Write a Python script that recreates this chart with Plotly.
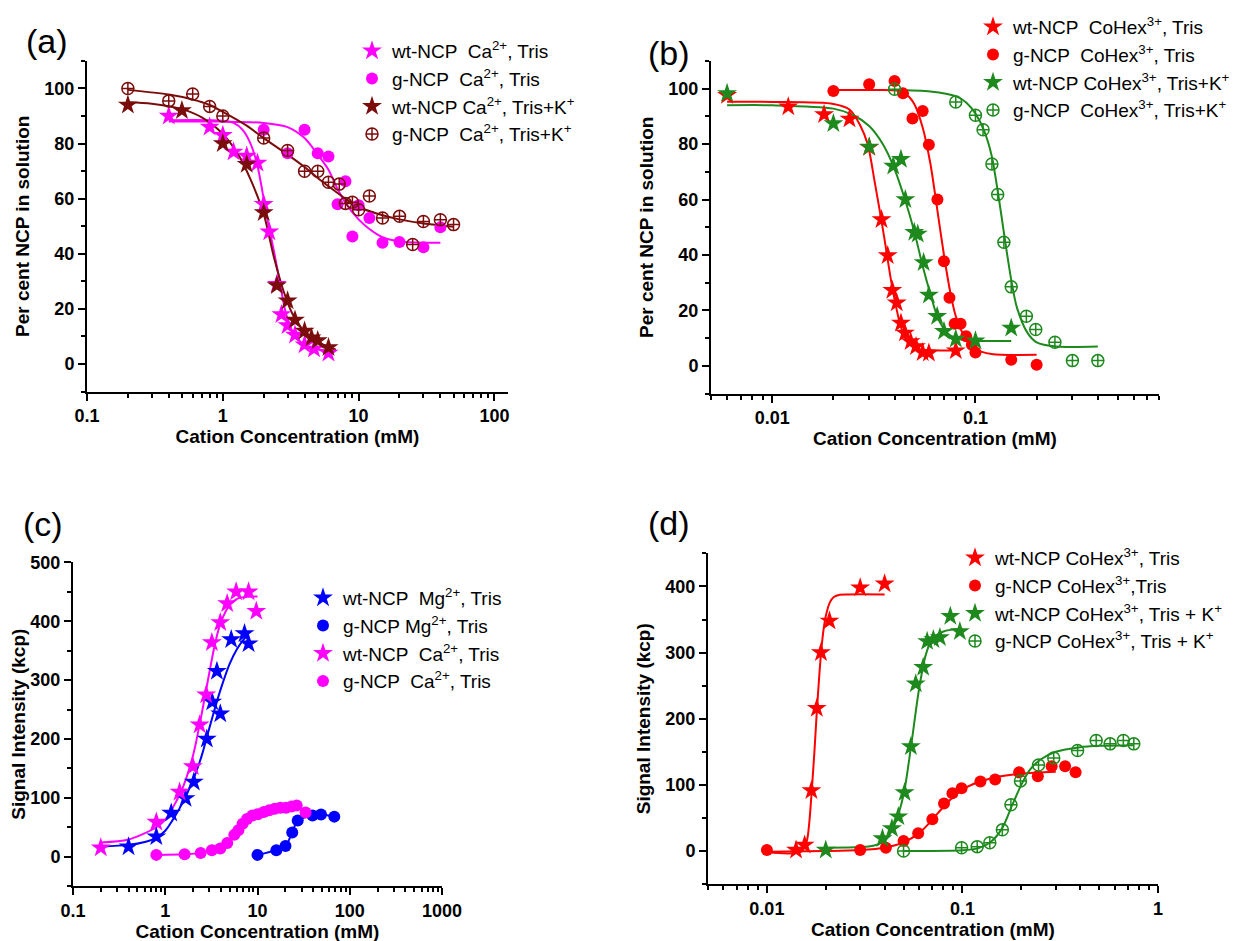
import plotly.graph_objects as go

# ---------------- Panel (a) data ----------------
a_wt_tris_x = [0.4, 0.8, 1.0, 1.2, 1.5, 1.8, 2.0, 2.2, 2.5, 2.7, 3.0, 3.4, 4.0, 4.7, 6.0]
a_wt_tris_y = [90, 86, 83, 77, 75.5, 73, 58, 48, 29, 18, 14, 10.5, 7, 5.5, 4]
a_wt_tris_fit_x = [0.4, 0.8, 1.0, 1.2, 1.4, 1.6, 1.8, 2.0, 2.2, 2.4, 2.6, 3.0, 3.5, 4.0, 5.0, 6.0]
a_wt_tris_fit_y = [88.5, 88.5, 88.3, 87.5, 85, 80, 72, 60, 49, 40, 31, 16, 9.5, 7, 5.3, 5]

a_g_tris_x = [2.0, 3.0, 4.0, 5.0, 6.0, 7.0, 8.0, 9.0, 10.0, 12.0, 15.0, 20.0, 30.0, 40.0]
a_g_tris_y = [85, 76.5, 85, 76.5, 75.3, 58, 66.3, 46.3, 57.6, 53, 44, 44.3, 42.4, 49.6]
a_g_tris_fit_x = [0.4, 1, 2, 3, 4, 5, 6, 7, 8, 10, 12, 15, 20, 30, 40]
a_g_tris_fit_y = [88, 88, 87.5, 86, 82, 76, 70.5, 63.5, 58.5, 52.5, 49, 46, 44.5, 44, 44]

a_wt_k_x = [0.2, 0.5, 1.0, 1.5, 2.0, 2.5, 3.0, 3.4, 4.0, 4.5, 5.0, 6.0]
a_wt_k_y = [94, 92, 80, 72.5, 55, 28.5, 23, 16, 12, 9.5, 8.5, 6]
a_wt_k_fit_x = [0.2, 0.3, 0.5, 0.7, 1.0, 1.3, 1.6, 2.0, 2.4, 2.8, 3.2, 3.8, 4.5, 5.5, 6.8]
a_wt_k_fit_y = [95, 94.5, 92.5, 89.5, 83.5, 76, 67, 54.5, 38, 26.5, 19, 13, 9.5, 7, 5.2]

a_g_k_x = [0.2, 0.4, 0.6, 0.8, 1.0, 2.0, 3.0, 4.0, 5.0, 6.0, 7.2, 8.0, 9.0, 10.0, 12.0, 15.0, 20.0, 25.0, 30.0, 40.0, 50.0]
a_g_k_y = [100, 95.5, 98, 93.5, 90, 82, 77.5, 70, 70, 66, 65.3, 58.3, 58.7, 56, 61, 53, 53.6, 43.4, 51.7, 52.4, 50.6]
a_g_k_fit_x = [0.2, 0.4, 0.6, 0.8, 1.0, 1.5, 2, 3, 4, 5, 6, 8, 10, 15, 20, 30, 50]
a_g_k_fit_y = [99.5, 97.8, 96, 94, 91.5, 86.5, 82, 76, 71.5, 67.5, 64.5, 60, 57, 54, 52.5, 51, 49.8]

# ---------------- Panel (b) data ----------------
b_wt_tris_x = [0.006, 0.012, 0.018, 0.024, 0.030, 0.0345, 0.037, 0.039, 0.041, 0.043, 0.045, 0.048, 0.051, 0.055, 0.059, 0.080]
b_wt_tris_y = [97.6, 93.5, 90.7, 89.1, 78.9, 52.8, 39.8, 27.3, 22.8, 15.5, 11.9, 8.8, 7.0, 4.8, 4.6, 5.5]
b_wt_tris_fit_x = [0.006, 0.01, 0.02, 0.024, 0.027, 0.0295, 0.032, 0.034, 0.036, 0.038, 0.040, 0.043, 0.047, 0.052, 0.06, 0.08]
b_wt_tris_fit_y = [95.3, 95.2, 94.5, 92.5, 87, 80, 66, 55, 44, 33, 24, 14, 8, 6, 5.6, 5.5]

b_g_tris_x = [0.02, 0.03, 0.04, 0.044, 0.049, 0.055, 0.059, 0.065, 0.070, 0.0745, 0.079, 0.0845, 0.09, 0.096, 0.1, 0.15, 0.2]
b_g_tris_y = [99.2, 101.6, 102.8, 98.3, 89.2, 91.9, 79.8, 60, 37.7, 24.6, 15.2, 15.2, 10.7, 7.6, 4.8, 2.2, 0.4]
b_g_tris_fit_x = [0.02, 0.03, 0.04, 0.045, 0.05, 0.055, 0.06, 0.065, 0.07, 0.075, 0.08, 0.09, 0.1, 0.12, 0.2]
b_g_tris_fit_y = [99.5, 99.5, 99.4, 98.3, 94.5, 86, 73, 56, 40, 27, 18, 9.5, 6, 4.3, 4]

b_wt_k_x = [0.006, 0.02, 0.03, 0.0394, 0.043, 0.0452, 0.05, 0.052, 0.0556, 0.059, 0.0648, 0.07, 0.08, 0.1, 0.15]
b_wt_k_y = [98.3, 87.4, 79, 72.1, 74.5, 60, 48.2, 47.6, 37.3, 25.6, 17.9, 12.5, 9.7, 9.1, 13.7]
b_wt_k_fit_x = [0.006, 0.01, 0.02, 0.025, 0.03, 0.035, 0.04, 0.045, 0.05, 0.055, 0.06, 0.066, 0.075, 0.085, 0.1, 0.15]
b_wt_k_fit_y = [94, 94, 92.8, 90.5, 86.5, 80, 71, 60, 48.5, 36, 26, 16.5, 11, 9.5, 9, 9]

b_g_k_x = [0.04, 0.08, 0.1, 0.109, 0.1205, 0.1286, 0.138, 0.15, 0.178, 0.198, 0.246, 0.3, 0.4]
b_g_k_y = [99.8, 95.2, 90.4, 85.2, 72.8, 61.8, 44.6, 28.5, 17.9, 13.1, 8.5, 1.9, 1.9]
b_g_k_fit_x = [0.04, 0.06, 0.08, 0.09, 0.1, 0.11, 0.12, 0.13, 0.14, 0.15, 0.16, 0.18, 0.2, 0.25, 0.4]
b_g_k_fit_y = [99.5, 99, 97.3, 95, 91, 85, 76, 61, 45, 31, 21, 12, 8.5, 7, 7]

# ---------------- Panel (c) data ----------------
c_wt_mg_x = [0.4, 0.8, 1.16, 1.66, 2.04, 2.82, 3.23, 3.63, 3.95, 5.19, 7.23, 8.0]
c_wt_mg_y = [17, 34, 74, 99, 127, 200, 263, 315, 243, 369, 379, 362]
c_wt_mg_fit_x = [0.2, 0.4, 0.6, 0.8, 1.0, 1.2, 1.5, 2.0, 2.5, 3.0, 3.5, 4.0, 5.0, 6.0, 7.0, 7.8]
c_wt_mg_fit_y = [17, 20, 25, 32, 44, 62, 88, 130, 173, 218, 255, 285, 328, 353, 368, 376]

c_g_mg_x = [10, 16, 20.1, 23.8, 27.3, 39.5, 48.8, 68]
c_g_mg_y = [3, 11, 18, 41, 61.5, 70, 71.5, 68]

c_wt_ca_x = [0.2, 0.8, 1.43, 1.99, 2.36, 2.78, 3.2, 3.95, 4.69, 5.87, 8.0, 9.7]
c_wt_ca_y = [15.3, 59, 110, 153, 224, 275, 364, 398, 430, 450, 450, 417]
c_wt_ca_fit_x = [0.2, 0.4, 0.8, 1.0, 1.5, 2.0, 2.5, 3.0, 3.5, 4.0, 5.0, 6.0, 7.0, 10.0]
c_wt_ca_fit_y = [24, 29, 50, 63, 112, 172, 245, 312, 365, 398, 428, 438, 441, 442]

c_g_ca_x = [0.8, 1.62, 2.42, 3.2, 3.95, 4.7, 5.6, 6.2, 6.9, 7.7, 8.8, 10.1, 11.7, 13.4, 15.4, 17.7, 20.4, 23.4, 26.6, 33.2]
c_g_ca_y = [3, 4, 6, 11, 14, 23, 37, 45, 56, 64, 70, 72, 76, 79, 81.5, 83, 83, 85, 87, 75]

# ---------------- Panel (d) data ----------------
d_wt_tris_x = [0.0141, 0.0156, 0.0169, 0.018, 0.0189, 0.0209, 0.03, 0.04]
d_wt_tris_y = [1.5, 9, 91.5, 216, 300, 348, 398, 404]
d_wt_tris_fit_x = [0.01, 0.015, 0.016, 0.0165, 0.017, 0.0175, 0.018, 0.0185, 0.019, 0.0195, 0.02, 0.021, 0.022, 0.0236, 0.026, 0.04]
d_wt_tris_fit_y = [-2, -1, 15, 45, 95, 150, 210, 262, 305, 335, 355, 376, 384, 387.5, 388, 388]

d_g_tris_x = [0.01, 0.03, 0.0406, 0.05, 0.0594, 0.0702, 0.0805, 0.0889, 0.099, 0.1236, 0.147, 0.195, 0.243, 0.286, 0.335, 0.379]
d_g_tris_y = [1.5, 1.5, 5, 15, 27, 48, 72, 87.5, 95, 105, 108, 119, 113, 128, 128, 119]
d_g_tris_fit_x = [0.01, 0.02, 0.03, 0.04, 0.05, 0.06, 0.07, 0.08, 0.09, 0.1, 0.12, 0.15, 0.2, 0.3]
d_g_tris_fit_y = [-1, 0, 1.5, 5, 13, 27, 47, 67, 82, 93, 104, 112, 117, 120]

d_wt_k_x = [0.02, 0.039, 0.0436, 0.047, 0.0506, 0.0545, 0.0577, 0.063, 0.066, 0.071, 0.0767, 0.0867, 0.097]
d_wt_k_y = [1.5, 19, 34, 52, 88.5, 158, 253, 278, 317, 320, 323, 355, 332]
d_wt_k_fit_x = [0.02, 0.03, 0.035, 0.04, 0.045, 0.05, 0.055, 0.06, 0.065, 0.07, 0.08, 0.1]
d_wt_k_fit_y = [5, 6, 8, 15, 40, 85, 165, 245, 297, 320, 332, 336]

d_g_k_x = [0.05, 0.099, 0.119, 0.138, 0.16, 0.177, 0.198, 0.245, 0.293, 0.388, 0.483, 0.569, 0.665, 0.752]
d_g_k_y = [0, 5, 6.6, 12.6, 32, 70, 106, 130, 140.6, 152, 167, 162, 167, 162]
d_g_k_fit_x = [0.05, 0.1, 0.12, 0.14, 0.16, 0.18, 0.2, 0.22, 0.25, 0.3, 0.4, 0.5, 0.75]
d_g_k_fit_y = [0, 1, 4, 14, 35, 70, 100, 122, 138, 150, 157, 159, 160]

# ---------------- styling ----------------
MAGENTA = "#ff00ff"
BROWN = "#7b0c0c"
RED = "#ff0000"
GREEN = "#1e8a1e"
BLUE = "#0000ff"
FONT = "Liberation Sans, Arial, sans-serif"
W, H = 1247, 941
STAR, DOT, PLUS = 15, 12, 12


def dom_x(x0, x1):
    return [x0 / W, x1 / W]


def dom_y(top, bottom):
    return [1 - bottom / H, 1 - top / H]


fig = go.Figure()


def add_points(xa, ya, x, y, name, color, symbol, legend, size):
    mk = dict(color=color, size=size, symbol=symbol)
    if "open" in symbol:
        mk["line"] = dict(color=color, width=1.5)
    fig.add_trace(go.Scatter(x=x, y=y, mode="markers", name=name, marker=mk,
                             xaxis=xa, yaxis=ya, legend=legend, showlegend=True))


def add_line(xa, ya, x, y, color):
    fig.add_trace(go.Scatter(x=x, y=y, mode="lines", line=dict(color=color, width=2, shape="spline", smoothing=0.8),
                             xaxis=xa, yaxis=ya, showlegend=False, hoverinfo="skip"))


# Panel (a)
add_line("x", "y", a_wt_tris_fit_x, a_wt_tris_fit_y, MAGENTA)
add_line("x", "y", a_g_tris_fit_x, a_g_tris_fit_y, MAGENTA)
add_line("x", "y", a_wt_k_fit_x, a_wt_k_fit_y, BROWN)
add_line("x", "y", a_g_k_fit_x, a_g_k_fit_y, BROWN)
add_points("x", "y", a_wt_tris_x, a_wt_tris_y, "wt-NCP  Ca<sup>2+</sup>, Tris", MAGENTA, "star", "legend", STAR)
add_points("x", "y", a_g_tris_x, a_g_tris_y, "g-NCP  Ca<sup>2+</sup>, Tris", MAGENTA, "circle", "legend", DOT)
add_points("x", "y", a_wt_k_x, a_wt_k_y, "wt-NCP Ca<sup>2+</sup>, Tris+K<sup>+</sup>", BROWN, "star", "legend", STAR)
add_points("x", "y", a_g_k_x, a_g_k_y, "g-NCP  Ca<sup>2+</sup>, Tris+K<sup>+</sup>", BROWN, "circle-cross-open", "legend", PLUS)

# Panel (b)
add_line("x2", "y2", b_wt_tris_fit_x, b_wt_tris_fit_y, RED)
add_line("x2", "y2", b_g_tris_fit_x, b_g_tris_fit_y, RED)
add_line("x2", "y2", b_wt_k_fit_x, b_wt_k_fit_y, GREEN)
add_line("x2", "y2", b_g_k_fit_x, b_g_k_fit_y, GREEN)
add_points("x2", "y2", b_wt_tris_x, b_wt_tris_y, "wt-NCP  CoHex<sup>3+</sup>, Tris", RED, "star", "legend2", STAR)
add_points("x2", "y2", b_g_tris_x, b_g_tris_y, "g-NCP  CoHex<sup>3+</sup>, Tris", RED, "circle", "legend2", DOT)
add_points("x2", "y2", b_wt_k_x, b_wt_k_y, "wt-NCP CoHex<sup>3+</sup>, Tris+K<sup>+</sup>", GREEN, "star", "legend2", STAR)
add_points("x2", "y2", b_g_k_x, b_g_k_y, "g-NCP  CoHex<sup>3+</sup>, Tris+K<sup>+</sup>", GREEN, "circle-cross-open", "legend2", PLUS)

# Panel (c)
add_line("x3", "y3", c_wt_mg_fit_x, c_wt_mg_fit_y, BLUE)
add_line("x3", "y3", c_wt_ca_fit_x, c_wt_ca_fit_y, MAGENTA)
add_line("x3", "y3", c_g_mg_x, c_g_mg_y, BLUE)
add_line("x3", "y3", c_g_ca_x, c_g_ca_y, MAGENTA)
add_points("x3", "y3", c_wt_mg_x, c_wt_mg_y, "wt-NCP  Mg<sup>2+</sup>, Tris", BLUE, "star", "legend3", STAR)
add_points("x3", "y3", c_g_mg_x, c_g_mg_y, "g-NCP Mg<sup>2+</sup>, Tris", BLUE, "circle", "legend3", DOT)
add_points("x3", "y3", c_wt_ca_x, c_wt_ca_y, "wt-NCP  Ca<sup>2+</sup>, Tris", MAGENTA, "star", "legend3", STAR)
add_points("x3", "y3", c_g_ca_x, c_g_ca_y, "g-NCP  Ca<sup>2+</sup>, Tris", MAGENTA, "circle", "legend3", DOT)

# Panel (d)
add_line("x4", "y4", d_wt_tris_fit_x, d_wt_tris_fit_y, RED)
add_line("x4", "y4", d_g_tris_fit_x, d_g_tris_fit_y, RED)
add_line("x4", "y4", d_wt_k_fit_x, d_wt_k_fit_y, GREEN)
add_line("x4", "y4", d_g_k_fit_x, d_g_k_fit_y, GREEN)
add_points("x4", "y4", d_wt_tris_x, d_wt_tris_y, "wt-NCP CoHex<sup>3+</sup>, Tris", RED, "star", "legend4", STAR)
add_points("x4", "y4", d_g_tris_x, d_g_tris_y, "g-NCP CoHex<sup>3+</sup>,Tris", RED, "circle", "legend4", DOT)
add_points("x4", "y4", d_wt_k_x, d_wt_k_y, "wt-NCP CoHex<sup>3+</sup>, Tris + K<sup>+</sup>", GREEN, "star", "legend4", STAR)
add_points("x4", "y4", d_g_k_x, d_g_k_y, "g-NCP CoHex<sup>3+</sup>, Tris + K<sup>+</sup>", GREEN, "circle-cross-open", "legend4", PLUS)


def minor_log(lo, hi):
    return [k * 10 ** e for e in range(lo, hi) for k in range(2, 10)]


tickfont = dict(family=FONT, size=18, color="black", weight="bold")
titlefont = dict(family=FONT, size=19, color="black", weight="bold")


def xaxis(domain, rng, tickvals, ticktext, minor_vals, anchor):
    return dict(domain=domain, type="log", range=rng, tickvals=tickvals, ticktext=ticktext,
                showline=True, linecolor="black", linewidth=2, ticks="outside", ticklen=7, tickwidth=2,
                tickcolor="black", showgrid=False, zeroline=False, tickfont=tickfont,
                minor=dict(tickvals=minor_vals, ticks="outside", ticklen=4, tickwidth=1.5, tickcolor="black", showgrid=False),
                title=dict(text="Cation Concentration (mM)", font=titlefont, standoff=4),
                anchor=anchor, automargin=False)


def yaxis(domain, rng, tickvals, minor_vals, title, anchor, standoff):
    return dict(domain=domain, range=rng, tickvals=tickvals,
                showline=True, linecolor="black", linewidth=2, ticks="outside", ticklen=7, tickwidth=2,
                tickcolor="black", showgrid=False, zeroline=False, tickfont=tickfont,
                minor=dict(tickvals=minor_vals, ticks="outside", ticklen=4, tickwidth=1.5, tickcolor="black", showgrid=False),
                title=dict(text=title, font=titlefont, standoff=standoff),
                anchor=anchor, automargin=False)


pct_ticks = [0, 20, 40, 60, 80, 100]
pct_minor = [-10, 10, 30, 50, 70, 90, 110]

fig.update_layout(
    xaxis=xaxis(dom_x(79, 500), [-1, 2.1], [0.1, 1, 10, 100], ["0.1", "1", "10", "100"], minor_log(-1, 2), "y"),
    yaxis=yaxis(dom_y(52, 383), [-10, 110], pct_ticks, pct_minor, "Per cent NCP in solution", "x", 10),
    xaxis2=xaxis(dom_x(703, 1151), [-2.301, -0.097], [0.01, 0.1], ["0.01", "0.1"], [v for v in minor_log(-3, 0) if 0.005 <= v <= 0.8], "y2"),
    yaxis2=yaxis(dom_y(52, 385), [-10, 110], pct_ticks, pct_minor, "Per cent NCP in solution", "x2", 10),
    xaxis3=xaxis(dom_x(65, 434), [-1, 3], [0.1, 1, 10, 100, 1000], ["0.1", "1", "10", "100", "1000"], minor_log(-1, 3), "y3"),
    yaxis3=yaxis(dom_y(554, 878), [-50, 500], [0, 100, 200, 300, 400, 500], [-50, 50, 150, 250, 350, 450], "Signal Intensity (kcp)", "x3", 4),
    xaxis4=xaxis(dom_x(700, 1150), [-2.301, 0], [0.01, 0.1, 1], ["0.01", "0.1", "1"], [v for v in minor_log(-3, 0) if v >= 0.005], "y4"),
    yaxis4=yaxis(dom_y(545, 876), [-50, 450], [0, 100, 200, 300, 400], [-50, 50, 150, 250, 350, 450], "Signal Intensity (kcp)", "x4", 10),
)

leg_common = dict(bgcolor="rgba(0,0,0,0)", font=dict(family=FONT, size=19, color="black"),
                  xanchor="left", yanchor="top", itemsizing="trace", tracegroupgap=0)
fig.update_layout(
    legend=dict(x=344 / W, y=1 - 24 / H, **leg_common),
    legend2=dict(x=965 / W, y=1 + 1 / H, **leg_common),
    legend3=dict(x=295 / W, y=1 - 571 / H, **leg_common),
    legend4=dict(x=947 / W, y=1 - 531 / H, **leg_common),
)

for txt, x, y in [("(a)", 39, 32), ("(b)", 661, 44), ("(c)", 35, 516), ("(d)", 661, 515)]:
    fig.add_annotation(text=txt, x=x / W, y=1 - y / H, xref="paper", yref="paper", showarrow=False,
                       font=dict(family=FONT, size=34, color="black"), xanchor="center", yanchor="middle")

fig.update_layout(width=W, height=H, margin=dict(l=0, r=0, t=0, b=0),
                  plot_bgcolor="white", paper_bgcolor="white")

fig.write_html("out.html")
